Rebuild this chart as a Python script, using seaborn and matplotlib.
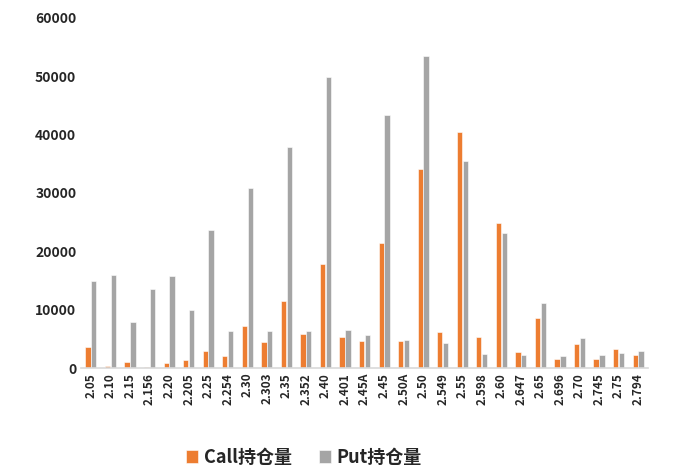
import pandas as pd
import numpy as np
import seaborn as sns
import matplotlib.pyplot as plt

# strikes & open interest
strikes = ['2.05', '2.10', '2.15', '2.156', '2.20', '2.205', '2.25', '2.254', '2.30', '2.303',
           '2.35', '2.352', '2.40', '2.401', '2.45A', '2.45', '2.50A', '2.50', '2.549', '2.55',
           '2.598', '2.60', '2.647', '2.65', '2.696', '2.70', '2.745', '2.75', '2.794']
call_oi = [3600, 300, 1100, 200, 800, 1300, 2900, 2000, 7200, 4500,
           11400, 5800, 17800, 5300, 4600, 21400, 4600, 34100, 6100, 40500,
           5300, 24800, 2700, 8600, 1600, 4100, 1600, 3300, 2200]
put_oi = [14900, 15900, 7800, 13500, 15700, 10000, 23700, 6400, 30900, 6300,
          37900, 6400, 49900, 6500, 5700, 43400, 4800, 53400, 4200, 35500,
          2400, 23100, 2300, 11100, 2100, 5100, 2300, 2600, 2900]
series_names = ['Call持仓量', 'Put持仓量']

df = pd.DataFrame({'strike': strikes, series_names[0]: call_oi, series_names[1]: put_oi})
df = df.melt(id_vars='strike', var_name='type', value_name='oi')

sns.set_style('white')
plt.rcParams['font.family'] = ['Noto Sans CJK SC', 'DejaVu Sans']

fig = plt.figure(figsize=(6.82, 4.70), dpi=100)
ax = fig.add_axes([0.119, 0.217, 0.831, 0.745])

sns.barplot(data=df, x='strike', y='oi', hue='type', order=strikes,
            palette=['#ED7D31', '#A5A5A5'], saturation=1, width=0.6, gap=0.1,
            edgecolor='white', linewidth=0.4, ax=ax)

ax.set_ylim(0, 60000)
ax.set_yticks(np.arange(0, 60001, 10000))
ax.set_xlim(-0.5, len(strikes) - 0.5)
ax.set_xlabel('')
ax.set_ylabel('')
for s in ['top', 'right', 'left']:
    ax.spines[s].set_visible(False)
ax.spines['bottom'].set_color('#D9D9D9')
ax.spines['bottom'].set_linewidth(1.2)
ax.tick_params(axis='both', length=0)
plt.setp(ax.get_yticklabels(), fontsize=10, fontweight='heavy')
plt.setp(ax.get_xticklabels(), fontsize=8.5, fontweight='heavy', rotation=90)

ax.legend(loc='center', bbox_to_anchor=(0.393, -0.255), ncol=2, frameon=False,
          prop={'size': 13, 'weight': 'heavy'}, handlelength=0.7, handleheight=0.7,
          columnspacing=1.5, handletextpad=0.3, borderpad=0.2)

plt.savefig('out.png', dpi=100)
